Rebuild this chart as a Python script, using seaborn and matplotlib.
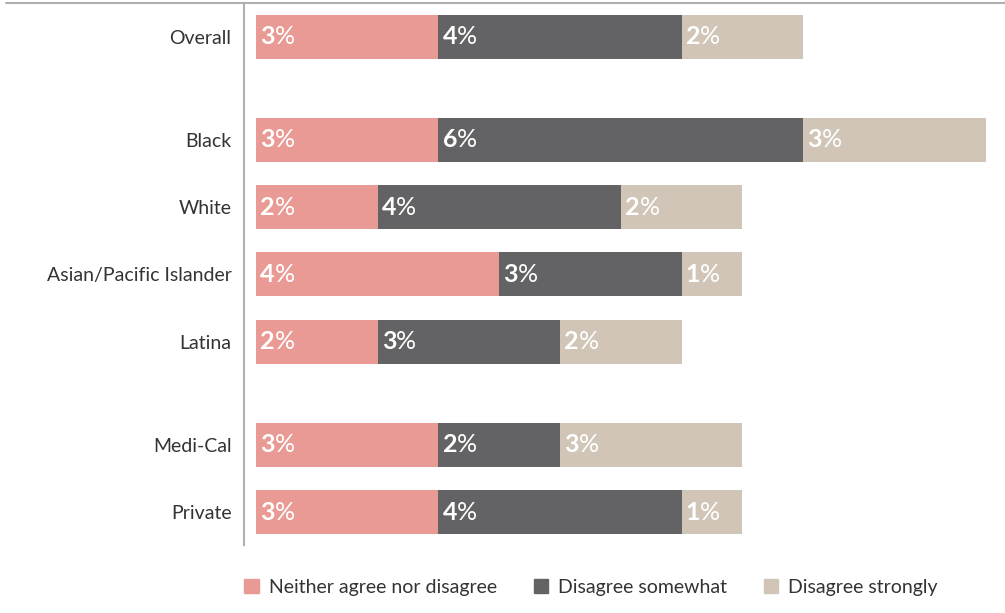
import matplotlib
matplotlib.use("Agg")
import matplotlib.pyplot as plt
from matplotlib.lines import Line2D
from matplotlib.patches import Patch
import seaborn as sns
import pandas as pd

# data
groups = ["Overall", "Black", "White", "Asian/Pacific Islander", "Latina", "Medi-Cal", "Private"]
section = [0, 1, 1, 1, 1, 2, 2]          # blocks separated by a wider gap
neither = [3, 3, 2, 4, 2, 3, 3]
somewhat = [4, 6, 4, 3, 3, 2, 4]
strongly = [2, 3, 2, 1, 2, 3, 1]
series = ["Neither agree nor disagree", "Disagree somewhat", "Disagree strongly"]
colors = ["#EA9A94", "#636264", "#D0C5B6"]

sns.set_style("white")
plt.rcParams["font.family"] = ["Lato", "DejaVu Sans"]

# row positions: one unit between rows, 1.53 between sections
pos = []
y = 0.0
for i, s in enumerate(section):
    if i > 0:
        y += 1.53 if s != section[i - 1] else 1.0
    pos.append(y)

df = pd.DataFrame({"group": groups, "pos": pos,
                   "n": neither, "s": somewhat, "st": strongly})
df["c1"] = df["n"]
df["c2"] = df["n"] + df["s"]
df["c3"] = df["c2"] + df["st"]

fig = plt.figure(figsize=(10.05, 6.13), dpi=100)
ax = fig.add_axes([244 / 1005, 1 - 545 / 613, 1 - 244 / 1005, (545 - 3) / 613])

# stacked by drawing cumulative totals back to front
for col, c in zip(["c3", "c2", "c1"], colors[::-1]):
    sns.barplot(data=df, x=col, y="pos", orient="h", native_scale=True,
                color=c, width=0.65, saturation=1, errorbar=None,
                linewidth=0, ax=ax)

# value labels: bold number + regular %
for _, r in df.iterrows():
    starts = [0, r["c1"], r["c2"]]
    for st, v in zip(starts, [r["n"], r["s"], r["st"]]):
        t = ax.annotate(f"{v:g}", xy=(st, r["pos"]), xytext=(3, 0),
                        textcoords="offset points", ha="left", va="center",
                        color="white", fontsize=18, fontweight="bold")
        ax.annotate("%", xycoords=t, xy=(1, 0), ha="left", va="bottom",
                    color="white", fontsize=18)

ax.set_xlim(-0.197, 12.32)
ax.set_ylim(pos[-1] + 0.49, -0.5)
ax.set_yticks(pos)
ax.set_yticklabels(groups, fontsize=14, color="#333333")
ax.tick_params(axis="y", length=0, pad=9)
ax.set_xticks([])
ax.set_xlabel("")
ax.set_ylabel("")
for k in ["top", "right", "bottom"]:
    ax.spines[k].set_visible(False)
ax.spines["left"].set_color("#B0B0B0")
ax.spines["left"].set_linewidth(1.5)

fig.add_artist(Line2D([6 / 1005, 1], [1 - 3 / 613, 1 - 3 / 613],
                      color="#B0B0B0", lw=1.5, transform=fig.transFigure))

handles = [Patch(color=c, label=s) for c, s in zip(colors, series)]
fig.legend(handles=handles, loc="center", bbox_to_anchor=(591 / 1005, 1 - 587 / 613),
           ncol=3, frameon=False, fontsize=14, handlelength=0.75, handleheight=0.75,
           handletextpad=0.5, columnspacing=1.9, labelcolor="#333333")

fig.savefig("out.png", dpi=100)
